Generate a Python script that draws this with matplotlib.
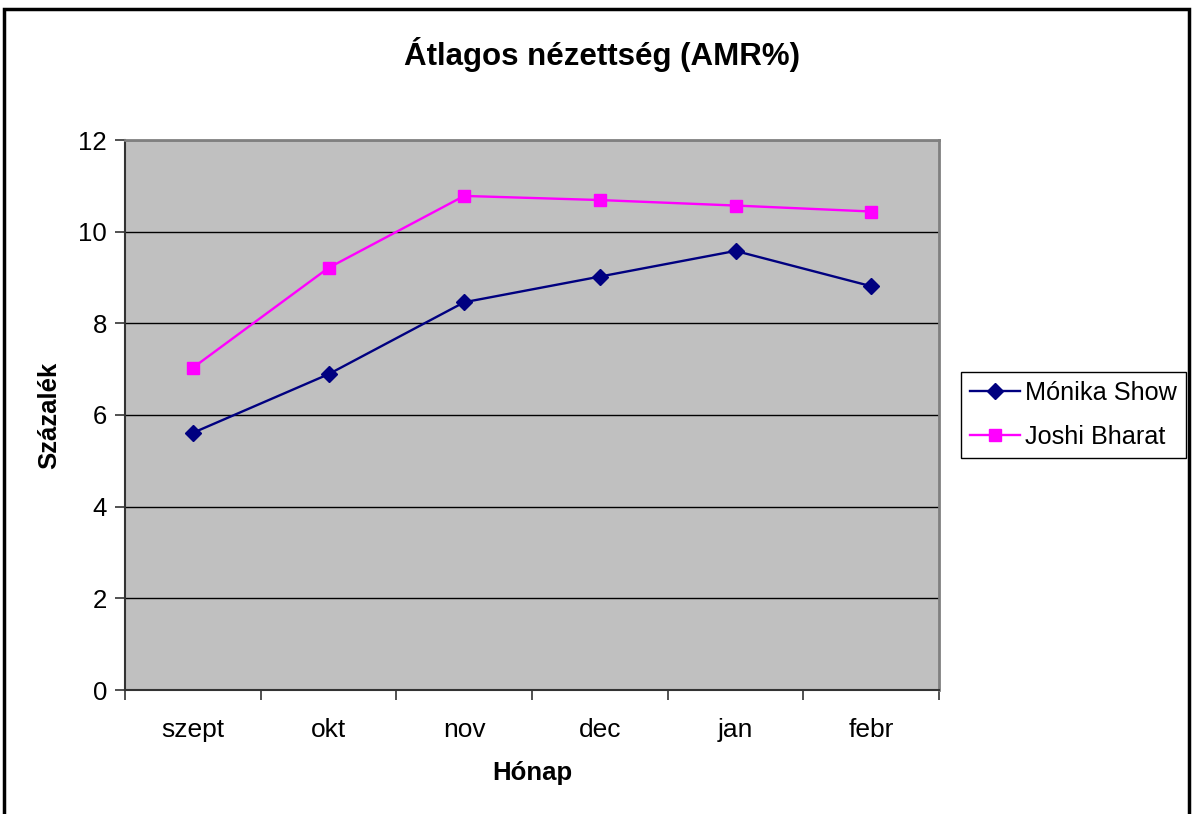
import matplotlib.pyplot as plt
from matplotlib.patches import Rectangle

plt.rcParams['font.family'] = ['Liberation Sans', 'DejaVu Sans']

months = ['szept', 'okt', 'nov', 'dec', 'jan', 'febr']
monika = [5.61, 6.89, 8.46, 9.02, 9.58, 8.81]
joshi = [7.03, 9.21, 10.78, 10.69, 10.57, 10.44]

fig = plt.figure(figsize=(11.96, 8.14), dpi=100)
ax = fig.add_axes([125 / 1196, 1 - 690 / 814, (939 - 125) / 1196, (690 - 140) / 814])

# chart frame round the figure
fig.patches.append(Rectangle((4 / 1196, -0.05), 1185 / 1196, 1.05 - 9 / 814,
                             transform=fig.transFigure, fill=False,
                             edgecolor='black', linewidth=2.5))

ax.set_facecolor('#c0c0c0')
x = list(range(len(months)))
ax.plot(x, monika, color='#000080', marker='D', markersize=8, linewidth=1.7,
        label='Mónika Show', zorder=3)
ax.plot(x, joshi, color='#ff00ff', marker='s', markersize=9, linewidth=1.7,
        label='Joshi Bharat', zorder=3)

ax.set_xlim(-0.5, 5.5)
ax.set_ylim(0, 12)
ax.set_yticks(range(0, 13, 2))
ax.yaxis.grid(True, color='black', linewidth=1)
ax.set_axisbelow(True)

ax.set_xticks([i - 0.5 for i in range(len(months) + 1)])
ax.set_xticklabels([])
ax.set_xticks(x, minor=True)
ax.set_xticklabels(months, minor=True)
ax.tick_params(axis='x', which='minor', length=0, pad=20, labelsize=19)
ax.tick_params(axis='x', which='major', length=7, width=1.2, color='#333333')
ax.tick_params(axis='y', length=7, width=1.2, color='#333333', labelsize=18.5, pad=6)

for s in ['top', 'right']:
    ax.spines[s].set_color('#808080')
    ax.spines[s].set_linewidth(2)
for s in ['left', 'bottom']:
    ax.spines[s].set_color('#333333')
    ax.spines[s].set_linewidth(1.5)

ax.set_xlabel('Hónap', fontsize=18.5, fontweight='bold', labelpad=14)
ax.set_ylabel('Százalék', fontsize=18.5, fontweight='bold', labelpad=12)
fig.text(0.503, 1 - 55 / 814, 'Átlagos nézettség (AMR%)', fontsize=22.5,
         fontweight='bold', ha='center', va='center')

leg = ax.legend(loc='center left', bbox_to_anchor=(961 / 1196, 1 - 415 / 814),
                bbox_transform=fig.transFigure, fontsize=18.2, frameon=True,
                fancybox=False, edgecolor='black', framealpha=1,
                handlelength=2.0, handletextpad=0.2, borderpad=0.35,
                labelspacing=0.78, borderaxespad=0)
leg.get_frame().set_linewidth(1)

fig.savefig('out.png', dpi=100)
